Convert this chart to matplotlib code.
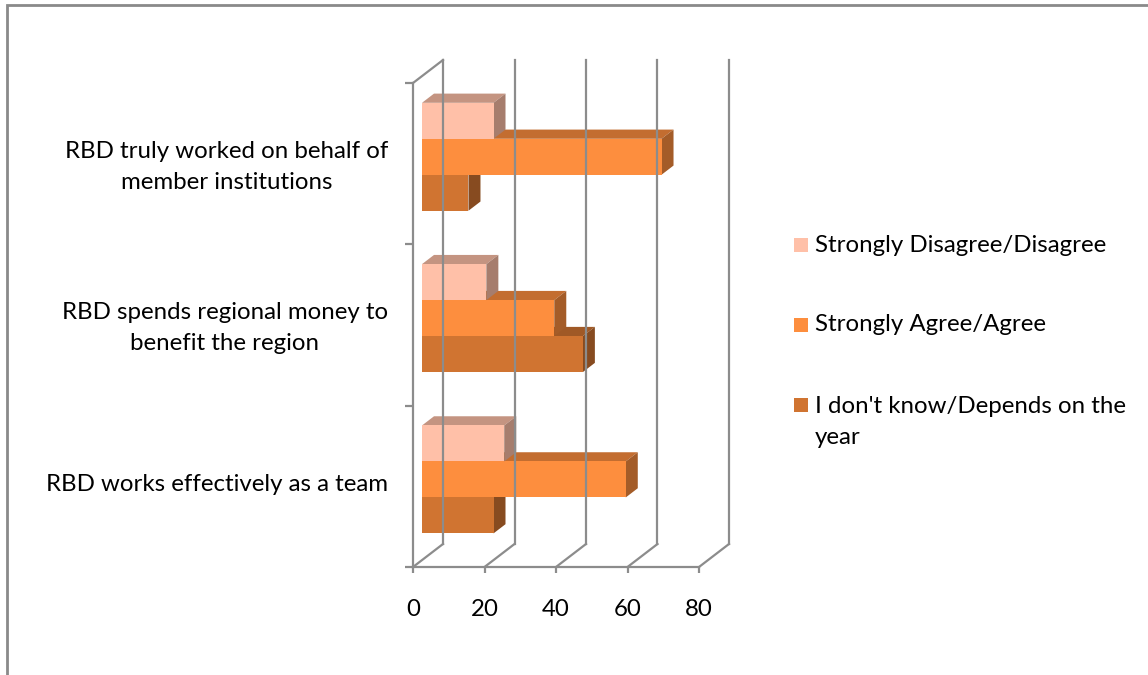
import matplotlib
matplotlib.use("Agg")
import matplotlib.pyplot as plt
import matplotlib.transforms as mtransforms
from matplotlib.patches import Polygon, Rectangle
from matplotlib.lines import Line2D

plt.rcParams['font.family'] = ['Lato', 'DejaVu Sans']

# survey answers in percent, one value per statement (bottom to top)
statements = ["RBD works effectively as a team",
              "RBD spends regional money to\nbenefit the region",
              "RBD truly worked on behalf of\nmember institutions"]
disagree = [23, 18, 20]
agree = [57, 37, 67]
dont_know = [20, 45, 13]

series_names = ["Strongly Disagree/Disagree",
                "Strongly Agree/Agree",
                "I don't know/Depends on the\nyear"]
series_colors = ["#FFC0A8", "#FD8E3E", "#D07431"]
xticks = [0, 20, 40, 60, 80]

FS = 17.3
W, H = 1148, 675
fig = plt.figure(figsize=(W / 100, H / 100), dpi=100)

# front plane of the 3d box, in pixels
x0_px, x1_px = 413, 699
y0_px, y1_px = 567, 83
ax = fig.add_axes([x0_px / W, 1 - y0_px / H, (x1_px - x0_px) / W, (y0_px - y1_px) / H])
ax.set_xlim(0, 80)
ax.set_ylim(0, 3)

# depth of the box (pixels) turned into data units
dx = 30 * 80 / (x1_px - x0_px)
dy = 23 * 3 / (y0_px - y1_px)


def off(x, y, f):
    return (x + f * dx, y + f * dy)


grid = "#8C8C8C"
for v in xticks:
    # back wall lines and floor diagonals
    ax.add_line(Line2D(*zip(off(v, 0, 1), off(v, 3, 1)), color=grid, lw=1.6, clip_on=False))
    ax.add_line(Line2D(*zip(off(v, 0, 0), off(v, 0, 1)), color=grid, lw=1.6, clip_on=False))
ax.add_line(Line2D(*zip(off(0, 3, 0), off(0, 3, 1)), color=grid, lw=1.6, clip_on=False))


def shade(c, k):
    r, g, b = matplotlib.colors.to_rgb(c)
    return (r * k, g * k, b * k)


def bar3d(y0, y1, v, color, f0=0.3, f1=0.7):
    top = [off(0, y1, f0), off(v, y1, f0), off(v, y1, f1), off(0, y1, f1)]
    side = [off(v, y0, f0), off(v, y1, f0), off(v, y1, f1), off(v, y0, f1)]
    front = [off(0, y0, f0), off(v, y0, f0), off(v, y1, f0), off(0, y1, f0)]
    ax.add_patch(Polygon(top, closed=True, fc=shade(color, 0.77), ec="none", clip_on=False))
    ax.add_patch(Polygon(side, closed=True, fc=shade(color, 0.65), ec="none", clip_on=False))
    ax.add_patch(Polygon(front, closed=True, fc=color, ec="none", clip_on=False))


h = 0.223
for i in range(len(statements)):
    c = i + 0.5
    # lowest bar first so the one above hides its top face
    bar3d(c - 1.5 * h, c - 0.5 * h, dont_know[i], series_colors[2])
    bar3d(c - 0.5 * h, c + 0.5 * h, agree[i], series_colors[1])
    bar3d(c + 0.5 * h, c + 1.5 * h, disagree[i], series_colors[0])

for s in ["top", "right"]:
    ax.spines[s].set_visible(False)
for s in ["left", "bottom"]:
    ax.spines[s].set_color(grid)
    ax.spines[s].set_linewidth(1.6)
ax.set_facecolor("none")

ax.set_xticks(xticks)
ax.set_xticklabels([str(t) for t in xticks])
ax.tick_params(axis="x", length=4, width=1.6, color=grid, pad=19, labelsize=FS)
ax.set_yticks([0.5, 1.5, 2.5])
ax.set_yticklabels(statements, multialignment="center", linespacing=1.6)
ax.set_yticks([0, 1, 2, 3], minor=True)
ax.tick_params(axis="y", which="major", length=0, pad=18, labelsize=FS)
ax.tick_params(axis="y", which="minor", length=6, width=1.6, color=grid)

# nudge the statement labels up a little
lift = mtransforms.ScaledTranslation(0, 4 / 100, fig.dpi_scale_trans)
for lbl in ax.get_yticklabels():
    lbl.set_transform(lbl.get_transform() + lift)

# legend drawn by hand so the square sits on the first text line
leg_y = [245, 325, 405]
for name, col, yy in zip(series_names, series_colors, leg_y):
    fig.add_artist(Rectangle((794 / W, 1 - (yy + 7) / H), 14 / W, 14 / H,
                             transform=fig.transFigure, fc=col, ec="none"))
    if "\n" in name:
        fig.text(815 / W, 1 - (yy - 9) / H, name, fontsize=FS, va="top", linespacing=1.6)
    else:
        fig.text(815 / W, 1 - yy / H, name, fontsize=FS, va="center")

# outer chart border
fig.add_artist(Rectangle((6.5 / W, -0.01), 1.02, 1 - 4.5 / H + 0.01, transform=fig.transFigure,
                         fill=False, ec="#8A8A8A", lw=2))

fig.savefig("out.png", dpi=100)
